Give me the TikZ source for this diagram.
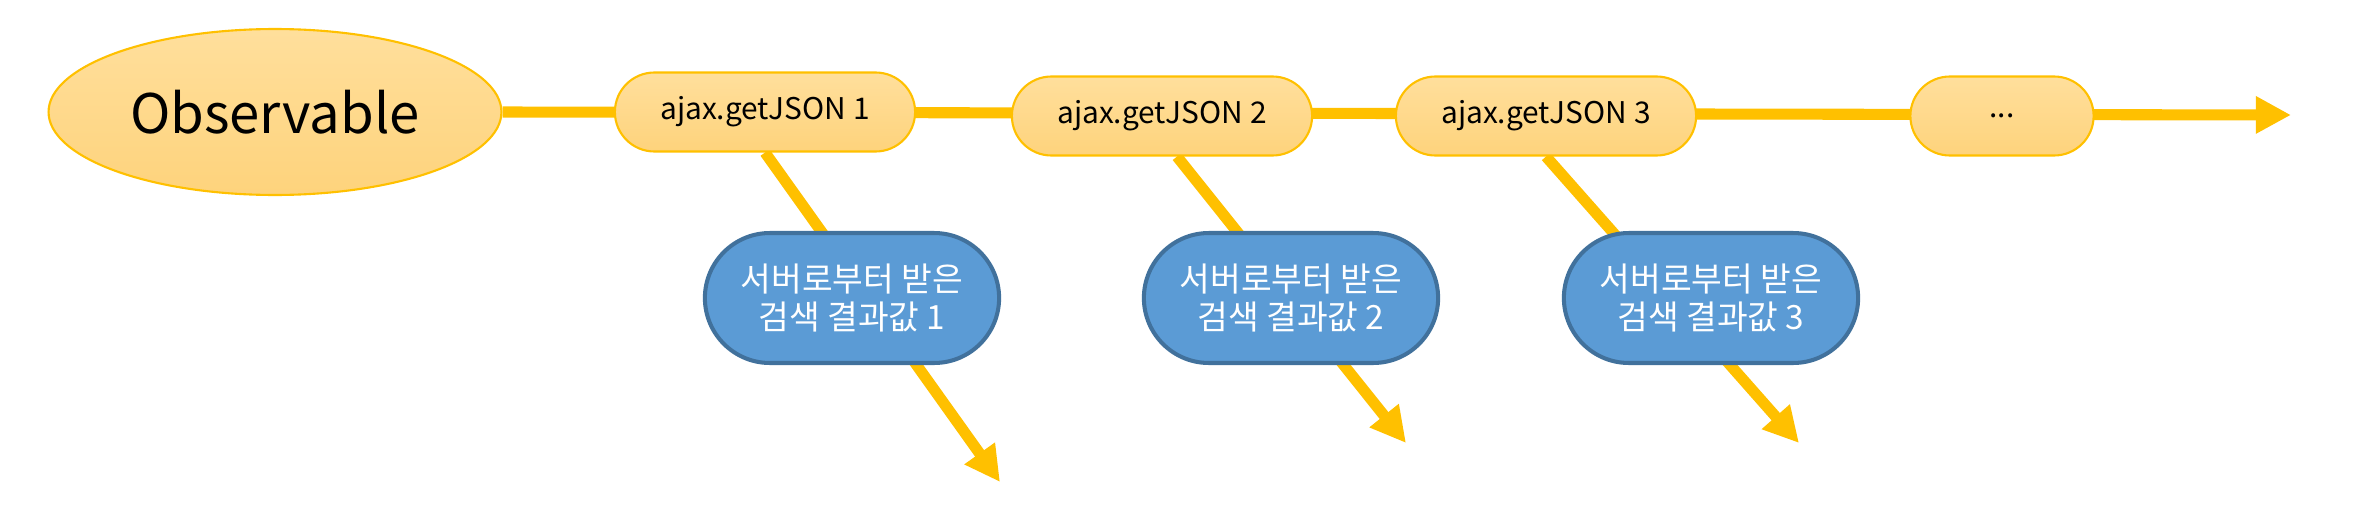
\documentclass[tikz,border=0pt]{standalone}
\usepackage{fontspec}
\setmainfont{Noto Sans CJK KR}
\usetikzlibrary{shapes.geometric,shapes.misc,arrows.meta,backgrounds}

\definecolor{gold}{RGB}{255,192,0}
\definecolor{lighttop}{RGB}{255,223,156}
\definecolor{lightbot}{RGB}{254,211,124}
\definecolor{bluefill}{RGB}{91,155,213}
\definecolor{blueline}{RGB}{65,113,156}

\tikzset{
  source/.style={ellipse, draw=gold, line width=1.2pt, top color=lighttop, bottom color=lightbot,
    minimum width=9.06cm, minimum height=3.32cm, font=\fontsize{31}{36}\selectfont},
  call/.style={rounded rectangle, draw=gold, line width=1.2pt, top color=lighttop, bottom color=lightbot,
    minimum width=6.24cm, minimum height=1.58cm, font=\fontsize{17}{20}\selectfont},
  result/.style={rounded rectangle, draw=blueline, fill=bluefill, line width=2.3pt, text=white,
    minimum width=6.12cm, minimum height=2.6cm, align=center, font=\fontsize{19}{22}\selectfont},
  flow/.style={draw=gold, line width=6.3pt, -{Triangle[length=20pt,width=20pt]}}
}

\begin{document}
\begin{tikzpicture}[x=0.02cm, y=-0.02cm]
	\useasboundingbox (0,0) rectangle (2378,524);
	
	% stream
	\node[source] (obs) at (275,112) {Observable};
	\node[call] (j1) at (765,112) {ajax.getJSON 1};
	\node[call] (j2) at (1162,116) {ajax.getJSON 2};
	\node[call] (j3) at (1546,116) {ajax.getJSON 3};
	\node[call, minimum width=3.9cm] (more) at (2002,116) {...};
	
	% results
	\node[result] (r1) at (852,298) {서버로부터 받은\\검색 결과값 1};
	\node[result] (r2) at (1291,298) {서버로부터 받은\\검색 결과값 2};
	\node[result] (r3) at (1711,298) {서버로부터 받은\\검색 결과값 3};
	
	\coordinate (t0) at (2291,115);
	\coordinate (t1) at (1000,482);
	\coordinate (t2) at (1406,443);
	\coordinate (t3) at (1799,443);
	
	\begin{scope}[on background layer]
		\draw[flow] (obs.east) -- (t0);
		\draw[flow] (j1.south) -- (t1);
		\draw[flow] ([xshift=0.3cm]j2.south) -- (t2);
		\draw[flow] (j3.south) -- (t3);
	\end{scope}
	
\end{tikzpicture}
\end{document}
